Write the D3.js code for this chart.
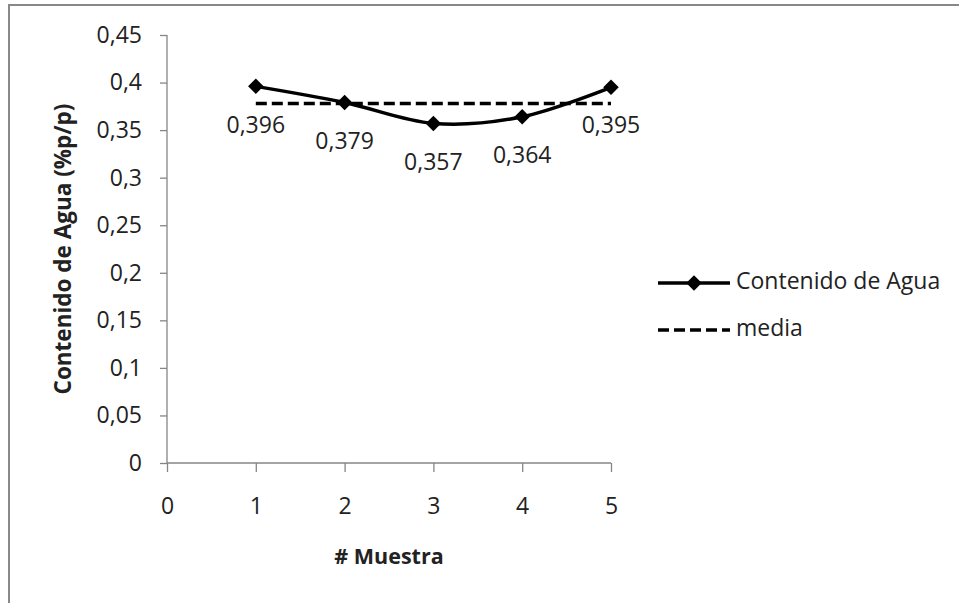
<!DOCTYPE html>
<html>
<head>
<meta charset="utf-8">
<script src="https://cdn.jsdelivr.net/npm/d3@7"></script>
<style>
  body { margin: 0; background: #fff; }
  text { font-family: "Open Sans", sans-serif; fill: #222; }
</style>
</head>
<body>
<svg id="chart" width="959" height="603"></svg>
<script>
// data
const muestras = [1, 2, 3, 4, 5];
const contenido = [0.396, 0.379, 0.357, 0.364, 0.395];
const media = [0.378, 0.378, 0.378, 0.378, 0.378];
const xTicks = [0, 1, 2, 3, 4, 5];
const yTicks = [0, 0.05, 0.1, 0.15, 0.2, 0.25, 0.3, 0.35, 0.4, 0.45];
const seriesNames = ["Contenido de Agua", "media"];

const svg = d3.select("#chart");
const axisColor = "#868686";
const fs = 23;

// frame (only left + top visible in the picture)
svg.append("path")
  .attr("d", "M9,603 L9,5 L959,5")
  .attr("fill", "none")
  .attr("stroke", "#888")
  .attr("stroke-width", 2);

const x = d3.scaleLinear().domain([0, 5]).range([167, 611]);
const y = d3.scaleLinear().domain([0, 0.45]).range([463, 35]);

// spanish decimal comma
const loc = d3.formatLocale({decimal: ",", thousands: ".", grouping: [3], currency: ["", "€"]});
const tickFmt = loc.format(".2~f");
const labelFmt = loc.format(".3f");

const g = svg.append("g");

// y axis
const yAxis = g.append("g")
  .attr("transform", `translate(${x(0)},0)`)
  .call(d3.axisLeft(y).tickValues(yTicks).tickFormat(tickFmt).tickSize(7).tickPadding(18));
// x axis
const xAxis = g.append("g")
  .attr("transform", `translate(0,${y(0)})`)
  .call(d3.axisBottom(x).tickValues(xTicks).tickFormat(d3.format("d")).tickSize(9).tickPadding(26));

[yAxis, xAxis].forEach(a => {
  a.select(".domain").attr("stroke", axisColor).attr("stroke-width", 1.3);
  a.selectAll(".tick line").attr("stroke", axisColor).attr("stroke-width", 1.3);
  a.selectAll(".tick text")
    .attr("font-family", "Open Sans")
    .attr("font-size", fs)
    .attr("fill", "#222");
});
xAxis.select(".domain").attr("d", `M${x(0)},0H${x(5)}`);
yAxis.select(".domain").attr("d", `M0,${y(0.45)}V${y(0)}`);

// axis titles
svg.append("text")
  .attr("x", x(2.5))
  .attr("y", 558)
  .attr("text-anchor", "middle")
  .attr("dominant-baseline", "middle")
  .attr("font-size", 21.5)
  .attr("font-weight", "bold")
  .text("# Muestra");

svg.append("text")
  .attr("transform", `translate(65,${y(0.225)}) rotate(-90)`)
  .attr("text-anchor", "middle")
  .attr("dominant-baseline", "middle")
  .attr("font-size", 22.5)
  .attr("font-weight", "bold")
  .text("Contenido de Agua (%p/p)");

// media line (dashed)
const mediaLine = d3.line()
  .x((d, i) => x(muestras[i]))
  .y(d => y(d));
g.append("path")
  .datum(media)
  .attr("d", mediaLine)
  .attr("fill", "none")
  .attr("stroke", "#000")
  .attr("stroke-width", 3.5)
  .attr("stroke-dasharray", "11,5");

// smoothed data line
const dataLine = d3.line()
  .x((d, i) => x(muestras[i]))
  .y(d => y(d))
  .curve(d3.curveCatmullRom.alpha(0));
g.append("path")
  .datum(contenido)
  .attr("d", dataLine)
  .attr("fill", "none")
  .attr("stroke", "#000")
  .attr("stroke-width", 3.5);

const diamond = d3.symbol(d3.symbolSquare, 120);
g.selectAll(".marker")
  .data(contenido)
  .join("path")
  .attr("class", "marker")
  .attr("d", diamond)
  .attr("transform", (d, i) => `translate(${x(muestras[i])},${y(d)}) rotate(45)`)
  .attr("fill", "#000");

// data labels
g.selectAll(".dlabel")
  .data(contenido)
  .join("text")
  .attr("class", "dlabel")
  .attr("x", (d, i) => x(muestras[i]))
  .attr("y", d => y(d) + 40)
  .attr("text-anchor", "middle")
  .attr("dominant-baseline", "middle")
  .attr("font-size", fs)
  .text(d => labelFmt(d));

// legend
const legend = svg.append("g");
const legY = [283, 330];
seriesNames.forEach((name, i) => {
  legend.append("line")
    .attr("x1", 658).attr("x2", 730)
    .attr("y1", legY[i]).attr("y2", legY[i])
    .attr("stroke", "#000")
    .attr("stroke-width", 3.5)
    .attr("stroke-dasharray", i === 1 ? "11,5" : null);
  if (i === 0) {
    legend.append("path")
      .attr("d", diamond)
      .attr("transform", `translate(694,${legY[i]}) rotate(45)`)
      .attr("fill", "#000");
  }
  legend.append("text")
    .attr("x", 736)
    .attr("y", legY[i])
    .attr("dominant-baseline", "middle")
    .attr("font-size", fs)
    .text(name);
});
</script>
</body>
</html>
